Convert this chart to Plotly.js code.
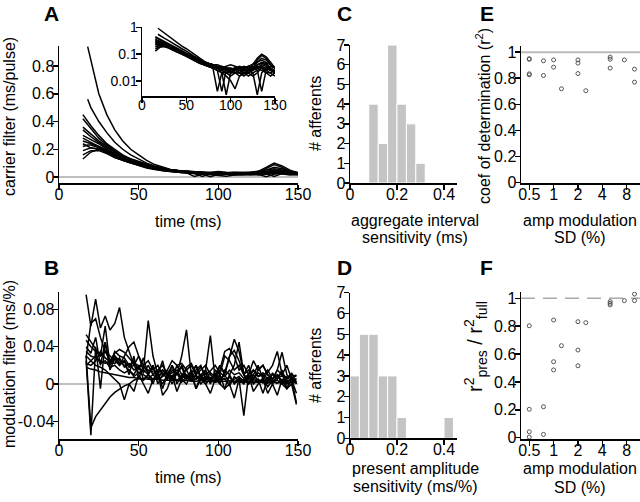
<!DOCTYPE html>
<html lang="en">
<head>
<meta charset="UTF-8">
<title>Carrier and modulation filters</title>
<script src="https://cdn.plot.ly/plotly-3.0.1.min.js"></script>
<style>
  body { margin: 0; background: #fff; }
  #fig { width: 640px; height: 502px; }
</style>
</head>
<body>
<div id="fig"></div>
<script>
// ---- A: carrier filters (ms/pulse) ----
const timeA = [15,18,20,25,30,35,40,45,50,55,60,65,70,75,80,85,90,95,100,105,110,115,120,125,130,135,140,145,150];
const carrierCurves = [
  [null,0.94,0.84, 0.60,0.45,0.34,0.26,0.20,0.16,0.12,0.09,0.07,0.055, 0.045,0.04,0.03,0.028,0.025,0.022,0.02,0.02,0.018,0.02, 0.025,0.03,0.035,0.03,0.025,0.02],
  [null,0.56,0.50, 0.40,0.32,0.25,0.20,0.16,0.13,0.10,0.08,0.065,0.05, 0.045,0.04,0.035,0.03,0.03,0.028,0.03,0.025,0.02,0.025, 0.04,0.07,0.10,0.08,0.05,0.03],
  [0.45,0.40,0.37, 0.30,0.24,0.20,0.16,0.13,0.11,0.09,0.07,0.06,0.05, 0.045,0.04,0.035,0.03,0.03,0.025,0.03,0.03,0.025,0.02, 0.03,0.05,0.07,0.06,0.04,0.03],
  [0.42,0.38,0.35, 0.28,0.23,0.19,0.15,0.12,0.10,0.08,0.065,0.055,0.05, 0.04,0.035,0.03,0.025,0.02,0.02,0.025,0.02,0.03,0.035, 0.03,0.025,0.004,0.025,0.03,0.02],
  [0.34,0.31,0.29, 0.25,0.21,0.18,0.15,0.12,0.10,0.085,0.07,0.06,0.05, 0.045,0.04,0.04,0.035,0.03,0.03,0.025,0.03,0.035,0.03, 0.025,0.04,0.05,0.045,0.03,0.025],
  [0.30,0.28,0.27, 0.24,0.20,0.17,0.14,0.11,0.095,0.08,0.065,0.05,0.045, 0.04,0.035,0.03,0.02,0.015,0.01,0.005,0.015,0.02,0.025, 0.03,0.035,0.03,0.02,0.015,0.02],
  [0.26,0.25,0.24, 0.22,0.19,0.16,0.13,0.11,0.09,0.075,0.06,0.055,0.05, 0.045,0.04,0.03,0.035,0.03,0.02,0.03,0.035,0.03,0.025, 0.02,0.003,0.02,0.03,0.035,0.03],
  [0.24,0.22,0.21, 0.20,0.18,0.15,0.12,0.10,0.085,0.07,0.06,0.05,0.04, 0.035,0.03,0.025,0.004,0.025,0.03,0.02,0.015,0.02,0.025, 0.03,0.04,0.045,0.04,0.03,0.02],
  [0.22,0.23,0.23, 0.21,0.17,0.14,0.12,0.10,0.08,0.065,0.055,0.045,0.04, 0.035,0.03,0.03,0.025,0.02,0.025,0.03,0.025,0.02,0.02, 0.025,0.03,0.04,0.035,0.025,0.02],
  [0.19,0.20,0.21, 0.20,0.18,0.15,0.13,0.11,0.09,0.07,0.06,0.05,0.04, 0.035,0.03,0.025,0.02,0.003,0.02,0.025,0.03,0.02,0.015, 0.02,0.025,0.03,0.025,0.02,0.015],
  [0.16,0.18,0.19, 0.19,0.17,0.14,0.12,0.10,0.085,0.07,0.055,0.045,0.04, 0.035,0.03,0.004,0.02,0.02,0.015,0.02,0.025,0.025,0.02, 0.015,0.02,0.03,0.03,0.025,0.02],
  [0.13,0.16,0.18, 0.20,0.19,0.16,0.13,0.11,0.09,0.075,0.06,0.05,0.045, 0.04,0.035,0.03,0.03,0.025,0.02,0.02,0.02,0.025,0.03, 0.035,0.03,0.025,0.02,0.02,0.025],
  [0.28,0.26,0.25, 0.22,0.19,0.16,0.135,0.115,0.10,0.085,0.07,0.06,0.05, 0.045,0.04,0.035,0.03,0.025,0.02,0.025,0.02,0.015,0.02, 0.03,0.06,0.09,0.07,0.04,0.03],
  [0.36,0.33,0.31, 0.26,0.22,0.18,0.15,0.13,0.11,0.09,0.075,0.06,0.05, 0.045,0.04,0.035,0.03,0.035,0.04,0.035,0.03,0.03,0.035, 0.04,0.05,0.06,0.05,0.04,0.03]
];

// ---- B: modulation filters (ms/%) ----
const timeB = [17,20,23,26,29,32,35,38,41,44,47,50,53,56,59,62,65,68,71,74,77,80,83,86,89,92,95,98,101,104,107,110,113,116,119,122,125,128,131,134,137,140,143,146,149];
const modulationCurves = [
  [.096,.062,.091,.060,.073, .058,.065,.082,.050,.035, .020,.030,.015,.068,.030, .010,.025,.005,.020,.010, .030,.058,.010,.020,.005, .015,.052,.005,.020,.010, .030,.048,.035,.010,.020, .005,.015,.020,.010,.005, .015,.034,.010,.005,-.010],
  [.025,-.055,.040,-.005,.045, .020,.030,.025,.020,.015, .010,.020,.005,.010,.000, .015,-.005,.010,.020,.000, .010,.005,.015,-.005,.010, .000,.005,.010,.000,-.005, .010,.000,.005,-.034,.010, .000,.005,-.010,.005,.000, .010,.000,-.005,.005,-.020],
  [.030,-.047,-.035,-.028,-.020, -.014,-.009,-.005,-.002,.000, .004,.006,.004,.010,.005, .008,.000,.010,.005,.012, .002,.008,.004,.010,.000, .006,.003,.010,.004,.006, -.002,.008,.003,.005,.000, .007,.002,.006,-.003,.004, .001,.005,.000,.003,.001],
  [.018,.016,.015,.013,.012, .011,.010,.009,.008,.007, .007,.006,.006,.005,.005, .005,.004,.004,.004,.004, .003,.004,.003,.003,.004, .003,.003,.002,.003,.003, .002,.003,.002,.002,.003, .002,.002,.003,.002,.002, .001,.002,.002,.001,.002],
  [.053,.045,.038,.030,.035, .025,.030,.022,.025,.018, .020,.012,.015,.010,.018, .008,.012,.005,.015,.010, .020,.008,.012,.005,.010, .015,.005,.010,.020,.012, .030,.036,.025,.010,.015, .005,.012,.008,.015,.005, .010,.003,.008,.002,.006],
  [.047,.040,.035,.030,.062, .020,.035,.030,.028,.020, .025,.015,.028,.010,.020, .005,.015,.010,.000,.012, .018,.005,.010,.020,.008, .012,.000,.015,.010,.030, .025,.015,.020,.010,.005, .015,.008,.010,.000,.012, .005,.015,-.005,.008,.002],
  [.035,.030,.028,.025,.022, .025,.033,.037,.034,.028, .022,.020,.018,.015,.013, .012,.015,.010,.008,.012, .006,.010,.005,.009,.004, .008,.006,.003,.008,.005, .007,.002,.006,.004,.008, .003,.005,.001,.006,.003, .004,.000,.004,.002,.003],
  [.020,.025,.020,.018,.015, .010,.005,.000,-.017,.000, -.008,.010,.000,-.010,.005, .012,-.012,-.005,.010,-.008, .005,.000,.010,-.005,.005, .000,-.010,.005,.010,-.005, .000,-.015,.005,.000,.010, -.008,.000,.005,-.010,.000, -.012,.005,-.005,.000,-.022],
  [.040,.033,.050,.020,.045, .015,.028,.020,.025,.010, .030,.005,.020,.012,.020, .000,.010,.015,.005,.020, .010,.015,.005,.015,.020, .005,.012,.008,.000,.015, .010,.020,.045,.010,.000, .010,.020,.005,.012,.020, .035,.010,.005,.012,.000],
  [.028,.065,.070,.050,.035, .030,.025,.020,.030,.040, .045,.030,.020,.025,.015, .020,.010,.015,.025,.020, .022,.015,.020,.010,.015, .020,.010,.005,.015,.035, .038,.030,.015,.020,.010, .025,.015,.020,.010,.005, .015,.010,.020,.005,.010],
  [.030,.025,.030,.022,.025, .018,.020,.015,.012,.015, .008,.012,.010,.006,.010, .005,.008,.012,.006,.004, .008,.010,.003,.006,.010, .004,.007,.002,.006,.009, .003,.005,.008,.002,.006, .010,.004,.002,.007,.003, .006,.009,.002,.005,.004],
  [.022,.020,.025,.035,.028, .024,.022,.028,.018,.022, .015,.018,.012,.020,.010, .015,.020,.010,.012,.015, .005,.018,.022,.012,.018, .010,.014,.020,.012,.008, .015,.010,.012,.006,.010, .015,.008,.012,.005,.010, .008,.012,.006,.010,.008]
];

// ---- C, D: histograms ----
const binsC = [0.10,0.14,0.18,0.22,0.26,0.30];
const countsC = [4,2,7,4,3,1];
const binsD = [0.02,0.06,0.10,0.14,0.18,0.22,0.42];
const countsD = [3,5,5,3,3,1,1];
const binWidth = 0.04;

// ---- E, F: scatter vs amp modulation SD (%) ----
const sdE = [0.5,0.5,0.5,0.5,0.75,0.75,1,1,1.25,2,2,2,2.5,5,5,5,7.5,10,10];
const r2E = [0.95,0.945,0.834,0.826,0.934,0.821,0.941,0.885,0.719,0.941,0.916,0.836,0.704,0.962,0.946,0.878,0.941,0.87,0.77];
const sdF = [0.5,0.5,0.5,0.5,0.75,0.75,1,1,1,1.25,2,2,2,2.5,5,5,5,7.5,10,10];
const ratioF = [0.803,0.204,0.043,0.005,0.222,0.024,0.844,0.545,0.486,0.66,0.832,0.629,0.516,0.825,0.976,0.964,0.952,0.983,1.03,0.983];

const W = 640, H = 502;
const px = x => x / W;
const py = y => 1 - y / H;

function ax(extra) {
  return Object.assign({
    showline: true, linecolor: '#000', linewidth: 1.5,
    ticks: 'outside', ticklen: 5, tickwidth: 1.5, tickcolor: '#000',
    showgrid: false, zeroline: false, fixedrange: true,
    tickfont: { size: 16, color: '#000' }
  }, extra);
}
const xs = { ticklabelstandoff: -9 };
const ys = { ticklabelstandoff: -5 };

const traces = [];
const blackLine = { color: '#000', width: 1.5 };
carrierCurves.forEach(c => {
  traces.push({ x: timeA, y: c, xaxis: 'x', yaxis: 'y', mode: 'lines', line: blackLine, hoverinfo: 'skip' });
  traces.push({ x: timeA, y: c, xaxis: 'x2', yaxis: 'y2', mode: 'lines', line: blackLine, hoverinfo: 'skip' });
});
modulationCurves.forEach(c => {
  traces.push({ x: timeB, y: c, xaxis: 'x3', yaxis: 'y3', mode: 'lines', line: blackLine, hoverinfo: 'skip' });
});
const barStyle = { color: '#c4c4c4', line: { color: '#fff', width: 1 } };
traces.push({ type: 'bar', x: binsC, y: countsC, width: binWidth, xaxis: 'x4', yaxis: 'y4', marker: barStyle });
traces.push({ type: 'bar', x: binsD, y: countsD, width: binWidth, xaxis: 'x5', yaxis: 'y5', marker: barStyle });
const dot = { symbol: 'circle-open', size: 4, color: '#555', line: { width: 1 } };
traces.push({ x: sdE, y: r2E, xaxis: 'x6', yaxis: 'y6', mode: 'markers', marker: dot });
traces.push({ x: sdF, y: ratioF, xaxis: 'x7', yaxis: 'y7', mode: 'markers', marker: dot });

const timeTicks = { tickvals: [0, 50, 100, 150], ticktext: ['0', '50', '100', '150'] };
const logTicks = { type: 'log', tickvals: [0.5, 1, 2, 4, 8], ticktext: ['0.5', '1', '2', '4', '8'] };
const unitTicks = { tickvals: [0, 0.2, 0.4, 0.6, 0.8, 1], ticktext: ['0', '0.2', '0.4', '0.6', '0.8', '1'] };

const layout = {
  width: W, height: H,
  margin: { l: 0, r: 0, t: 0, b: 0 },
  paper_bgcolor: '#fff', plot_bgcolor: 'rgba(0,0,0,0)',
  showlegend: false, bargap: 0,
  font: { family: 'Liberation Sans, Arial, sans-serif', color: '#000', size: 16 },
  // A
  xaxis: ax(Object.assign({ domain: [px(59), px(298)], range: [0, 150], anchor: 'y' }, timeTicks, xs)),
  yaxis: ax(Object.assign({ domain: [py(183), py(46)], range: [-0.043, 0.944], anchor: 'x', tickvals: [0, 0.2, 0.4, 0.6, 0.8], ticktext: ['0', '0.2', '0.4', '0.6', '0.8'] }, ys)),
  // inset
  xaxis2: ax(Object.assign({ domain: [px(142), px(275)], range: [0, 150], anchor: 'y2', tickfont: { size: 14 } }, timeTicks, xs)),
  yaxis2: ax(Object.assign({ domain: [py(96), py(27)], type: 'log', range: [-2.57, 0.02], anchor: 'x2', tickvals: [0.01, 0.1, 1], ticktext: ['0.01', '0.1', '1'], tickfont: { size: 14 } }, ys)),
  // B
  xaxis3: ax(Object.assign({ domain: [px(59), px(298)], range: [0, 150], anchor: 'y3' }, timeTicks, xs)),
  yaxis3: ax(Object.assign({ domain: [py(439), py(292)], range: [-0.059, 0.0987], anchor: 'x3', tickvals: [-0.04, 0, 0.04, 0.08], ticktext: ['-0.04', '0', '0.04', '0.08'] }, ys)),
  // C
  xaxis4: ax(Object.assign({ domain: [px(350), px(456.7)], range: [0, 0.454], anchor: 'y4', tickvals: [0, 0.2, 0.4], ticktext: ['0', '0.2', '0.4'] }, xs)),
  yaxis4: ax(Object.assign({ domain: [py(183), py(45)], range: [0, 7], anchor: 'x4', dtick: 1 }, ys)),
  // D
  xaxis5: ax(Object.assign({ domain: [px(350), px(456.7)], range: [0, 0.454], anchor: 'y5', tickvals: [0, 0.2, 0.4], ticktext: ['0', '0.2', '0.4'] }, xs)),
  yaxis5: ax(Object.assign({ domain: [py(438.3), py(292.7)], range: [0, 7], anchor: 'x5', dtick: 1 }, ys)),
  // E
  xaxis6: ax(Object.assign({ domain: [px(521), 1], range: [-0.403, 1.068], anchor: 'y6' }, logTicks, xs)),
  yaxis6: ax(Object.assign({ domain: [py(183), py(45.7)], range: [-0.005, 1.05], anchor: 'x6' }, unitTicks, ys)),
  // F
  xaxis7: ax(Object.assign({ domain: [px(521), 1], range: [-0.403, 1.068], anchor: 'y7' }, logTicks, xs)),
  yaxis7: ax(Object.assign({ domain: [py(439), py(291.7)], range: [-0.009, 1.047], anchor: 'x7' }, unitTicks, ys)),
  shapes: [
    { type: 'line', xref: 'x', yref: 'y', x0: 0, x1: 150, y0: 0, y1: 0, layer: 'below', line: { color: '#aaa', width: 1.5 } },
    { type: 'line', xref: 'x3', yref: 'y3', x0: 0, x1: 150, y0: 0, y1: 0, layer: 'below', line: { color: '#aaa', width: 1.5 } },
    { type: 'line', xref: 'x6 domain', yref: 'y6', x0: 0, x1: 1, y0: 1, y1: 1, layer: 'below', line: { color: '#bbb', width: 2 } },
    { type: 'line', xref: 'x7 domain', yref: 'y7', x0: 0, x1: 1, y0: 1, y1: 1, layer: 'below', line: { color: '#aaa', width: 1.5, dash: '14px,8px' } }
  ],
  annotations: []
};

function note(text, x, y, opts) {
  layout.annotations.push(Object.assign({
    text: text, x: px(x), y: py(y), xref: 'paper', yref: 'paper',
    xanchor: 'center', yanchor: 'middle', showarrow: false,
    font: { size: 16, color: '#000' }
  }, opts || {}));
}

// panel letters
const letterFont = { font: { size: 21, color: '#000', family: 'Liberation Sans, Arial, sans-serif' } };
[['A', 51, 14], ['B', 51, 267], ['C', 344, 14], ['D', 344, 267], ['E', 487, 14], ['F', 486, 267]].forEach(l => {
  note('<b>' + l[0] + '</b>', l[1], l[2], letterFont);
});

// axis titles
note('carrier filter (ms/pulse)', 9, 117, { textangle: -90 });
note('time (ms)', 188, 221);
note('modulation filter (ms/%)', 9, 364, { textangle: -90 });
note('time (ms)', 188, 477);
note('# afferents', 315, 114, { textangle: -90 });
note('# afferents', 315, 366, { textangle: -90 });
note('aggregate interval', 415, 220);
note('sensitivity (ms)', 415, 237);
note('present amplitude', 415, 468);
note('sensitivity (ms/%)', 415, 486);
note('amp modulation', 580, 468);
note('SD (%)', 580, 487);
note('amp modulation', 580, 220);
note('SD (%)', 580, 237);
note('coef of determination (r<sup>2</sup>)', 483, 116, { textangle: -90 });
note('r<sup>2</sup><sub>pres</sub> / r<sup>2</sup><sub>full</sub>', 475, 347, { textangle: -90, font: { size: 20, color: '#000' } });

Plotly.newPlot('fig', traces, layout, { displayModeBar: false, staticPlot: true });
</script>
</body>
</html>
